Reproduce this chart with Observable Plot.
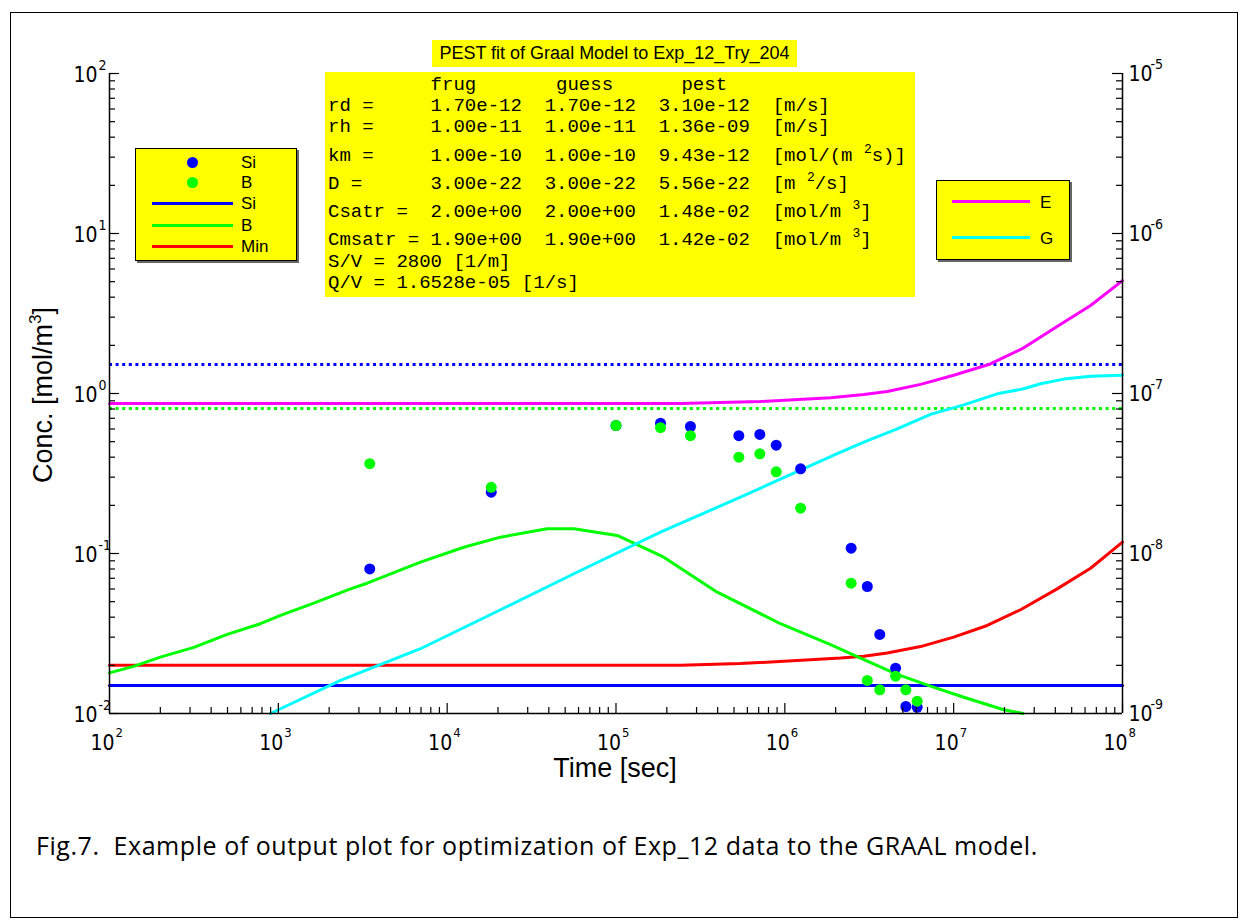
<!DOCTYPE html>
<html><head><meta charset="utf-8">
<script src="https://cdn.jsdelivr.net/npm/d3@7"></script>
<script src="https://cdn.jsdelivr.net/npm/@observablehq/plot@0.6"></script>
<style>
body{margin:0;background:#fff;}
#page{position:relative;width:1246px;height:920px;overflow:hidden;font-family:"Liberation Sans",Arial,sans-serif;color:#000;}
.abs{position:absolute;}
.mono{position:absolute;font-family:"Liberation Mono","Courier New",monospace;font-size:19px;line-height:20px;white-space:pre;}
.sup{font-size:13px;position:relative;top:-8px;}
.leg{position:absolute;background:#ffff00;border:1px solid #000;box-shadow:2px 2px 0 #666;}
.lab{position:absolute;font-size:17px;line-height:20px;}
.sw{position:absolute;height:3px;}
.dotsw{position:absolute;width:11px;height:11px;border-radius:50%;}
</style></head><body>
<div id="page">
  <div class="abs" style="left:10px;top:12px;width:1226px;height:904px;border:1px solid #000;"></div>
  <div id="chart" class="abs" style="left:0;top:0;"></div>
</div>
<script>
// ---------------- data ----------------
// measured points (time in s, concentration in mol/m3)
const pointTimes = [3480, 18240, 100000, 183500, 276000, 534000, 711000, 889000, 1240000, 2470000, 3080000, 3650000, 4530000, 5210000, 6080000];
const siMeasured = [0.0801, 0.2415, 0.631, 0.652, 0.622, 0.545, 0.555, 0.475, 0.338, 0.108, 0.0622, 0.0312, 0.0192, 0.01106, 0.01094];
const bMeasured  = [0.364, 0.259, 0.631, 0.611, 0.545, 0.400, 0.420, 0.324, 0.192, 0.0652, 0.0161, 0.01406, 0.0171, 0.01406, 0.01194];

// model B curve
const bModelTime = [100, 139, 200, 316, 498, 784, 1030, 1622, 2675, 3360, 6950, 12550, 20700, 39150, 56230, 101600, 191900, 397500, 942000, 1866000, 2940000, 4630000, 7290000, 11480000, 19800000, 25800000];
const bModelConc = [0.01795, 0.0197, 0.0225, 0.0259, 0.0312, 0.0364, 0.041, 0.0489, 0.0601, 0.0652, 0.0883, 0.1094, 0.1265, 0.1426, 0.1426, 0.1296, 0.0948, 0.0573, 0.0364, 0.0269, 0.0217, 0.01754, 0.01483, 0.01264, 0.01055, 0.0100];

// model Si (flat)
const siModelTime = [100, 100000000];
const siModelConc = [0.01496, 0.01496];

// model Min curve
const minTime = [100, 241000, 546000, 2140000, 2940000, 4040000, 6370000, 10000000, 15800000, 24900000, 41000000, 64700000, 100000000];
const minConc = [0.0200, 0.0200, 0.0205, 0.0222, 0.0228, 0.0239, 0.0262, 0.0300, 0.0355, 0.0445, 0.0601, 0.0809, 0.1177];

// right-axis series E and G
const eTime  = [100, 241000, 718000, 1866000, 2940000, 4040000, 6370000, 10000000, 16500000, 26000000, 41000000, 64700000, 100000000];
const eValue = [8.66e-8, 8.66e-8, 8.91e-8, 9.4e-8, 9.86e-8, 1.03e-7, 1.14e-7, 1.30e-7, 1.53e-7, 1.93e-7, 2.62e-7, 3.55e-7, 5.08e-7];
const gTime  = [899, 2335, 6950, 20700, 61660, 183500, 546000, 2140000, 2940000, 4630000, 7290000, 11480000, 18100000, 26000000, 32700000, 44900000, 64700000, 100000000];
const gValue = [1.0e-9, 1.61e-9, 2.54e-9, 4.45e-9, 7.83e-9, 1.36e-8, 2.25e-8, 4.30e-8, 4.97e-8, 6.01e-8, 7.40e-8, 8.49e-8, 9.95e-8, 1.07e-7, 1.15e-7, 1.23e-7, 1.28e-7, 1.30e-7];

// dotted reference levels
const siDottedLevel = [1.52];
const bDottedLevel  = [0.806];

// tick labels (exponents)
const xExponents = [2, 3, 4, 5, 6, 7, 8];
const leftExponents = [-2, -1, 0, 1, 2];
const rightExponents = [-9, -8, -7, -6, -5];
const rightOffset = 7; // right axis = left axis * 1e-7

// parameter table
const paramNames = ["rd =", "rh =", "km =", "D =", "Csatr =", "Cmsatr ="];
const frugVals  = ["1.70e-12", "1.00e-11", "1.00e-10", "3.00e-22", "2.00e+00", "1.90e+00"];
const guessVals = ["1.70e-12", "1.00e-11", "1.00e-10", "3.00e-22", "2.00e+00", "1.90e+00"];
const pestVals  = ["3.10e-12", "1.36e-09", "9.43e-12", "5.56e-22", "1.48e-02", "1.42e-02"];
const unitVals  = ["[m/s]", "[m/s]", "[mol/(m |2|s)]", "[m |2|/s]", "[mol/m |3|]", "[mol/m |3|]"];
const extraLines = ["S/V = 2800 [1/m]", "Q/V = 1.6528e-05 [1/s]"];

// ---------------- chart ----------------
const W = 1246, H = 790, mL = 109, mR = 124, mT = 73, mB = 77;
const pw = W - mL - mR, ph = H - mT - mB;
const yMajor = leftExponents.map(e => 10 ** e);
const yMinor = [];
for (const e of leftExponents.slice(0, -1)) for (let m = 2; m <= 9; m++) yMinor.push(m * 10 ** e);
const xMajor = xExponents.map(e => 10 ** e);
const xMinor = [];
for (const e of xExponents.slice(0, -1)) for (let m = 2; m <= 9; m++) xMinor.push(m * 10 ** e);

const tickFont = '"Liberation Sans Narrow","Arial Narrow","DejaVu Sans Condensed","Liberation Sans",Arial,sans-serif';
const n = a => ({length: a.length});

const chart = Plot.plot({
  width: W, height: H,
  marginLeft: mL, marginRight: mR, marginTop: mT, marginBottom: mB,
  x: {type: "log", domain: [1e2, 1e8], axis: null},
  y: {type: "log", domain: [1e-2, 1e2], axis: null},
  style: {background: "transparent", overflow: "visible"},
  marks: [
    Plot.ruleY(siDottedLevel, {stroke: "#0000ff", strokeWidth: 3, strokeDasharray: "3,3.6"}),
    Plot.ruleY(bDottedLevel, {stroke: "#00ff00", strokeWidth: 3, strokeDasharray: "3,3.6"}),
    Plot.line(n(siModelTime), {x: siModelTime, y: siModelConc, stroke: "#0000ff", strokeWidth: 3}),
    Plot.line(n(minTime), {x: minTime, y: minConc, stroke: "#ff0000", strokeWidth: 3}),
    Plot.line(n(bModelTime), {x: bModelTime, y: bModelConc, stroke: "#00ff00", strokeWidth: 3}),
    Plot.line(n(eTime), {x: eTime, y: eValue.map(v => v * 10 ** rightOffset), stroke: "#ff00ff", strokeWidth: 3}),
    Plot.line(n(gTime), {x: gTime, y: gValue.map(v => v * 10 ** rightOffset), stroke: "#00ffff", strokeWidth: 3}),
    Plot.dot(n(pointTimes), {x: pointTimes, y: siMeasured, r: 5.5, fill: "#0000ff"}),
    Plot.dot(n(pointTimes), {x: pointTimes, y: bMeasured, r: 5.5, fill: "#00ff00"}),
    // axes lines
    Plot.ruleX([1e2], {stroke: "#000", strokeWidth: 1.5}),
    Plot.ruleX([1e8], {stroke: "#000", strokeWidth: 1.5}),
    Plot.ruleY([1e-2], {stroke: "#000", strokeWidth: 1.5}),
    // inward ticks
    Plot.tickY(yMajor, {y: d => d, insetRight: pw - 10, stroke: "#000", strokeWidth: 1.2}),
    Plot.tickY(yMinor, {y: d => d, insetRight: pw - 6, stroke: "#000", strokeWidth: 1.2}),
    Plot.tickY(yMajor, {y: d => d, insetLeft: pw - 10, stroke: "#000", strokeWidth: 1.2}),
    Plot.tickY(yMinor, {y: d => d, insetLeft: pw - 6, stroke: "#000", strokeWidth: 1.2}),
    Plot.tickX(xMajor, {x: d => d, insetTop: ph - 10, stroke: "#000", strokeWidth: 1.2}),
    Plot.tickX(xMinor, {x: d => d, insetTop: ph - 6, stroke: "#000", strokeWidth: 1.2}),
    // left tick labels
    Plot.text(leftExponents, {y: e => 10 ** e, frameAnchor: "left", text: () => "10", textAnchor: "end", dx: -12, dy: 2, fontSize: 21, fontFamily: tickFont, fill: "#000"}),
    Plot.text(leftExponents, {y: e => 10 ** e, frameAnchor: "left", text: e => String(e), textAnchor: "start", dx: -11, dy: -8, fontSize: 14, fontFamily: tickFont, fill: "#000"}),
    // right tick labels
    Plot.text(rightExponents, {y: e => 10 ** (e + rightOffset), frameAnchor: "right", text: () => "10", textAnchor: "start", dx: 6, dy: 1, fontSize: 21, fontFamily: tickFont, fill: "#000"}),
    Plot.text(rightExponents, {y: e => 10 ** (e + rightOffset), frameAnchor: "right", text: e => String(e), textAnchor: "start", dx: 28, dy: -9, fontSize: 14, fontFamily: tickFont, fill: "#000"}),
    // bottom tick labels
    Plot.text(xExponents, {x: e => 10 ** e, frameAnchor: "bottom", text: () => "10", textAnchor: "end", dx: 5, dy: 36, fontSize: 21, fontFamily: tickFont, fill: "#000"}),
    Plot.text(xExponents, {x: e => 10 ** e, frameAnchor: "bottom", text: e => String(e), textAnchor: "start", dx: 6, dy: 23, fontSize: 13, fontFamily: tickFont, fill: "#000"})
  ]
});
document.getElementById("chart").appendChild(chart);

// ---------------- overlays ----------------
const page = document.getElementById("page");
function add(html) { page.insertAdjacentHTML("beforeend", html); }
const supify = s => s.replace(/\|(.+?)\|/g, '<span class="sup">$1</span>');

// axis titles
add('<div class="abs" style="left:465px;top:753px;width:300px;text-align:center;font-size:27px;line-height:30px;">Time [sec]</div>');
add('<div class="abs" style="left:-105px;top:378px;width:300px;text-align:center;font-size:27px;line-height:30px;transform:rotate(-90deg);">Conc. [mol/m<span style="font-size:17px;position:relative;top:-11px;">3</span>]</div>');

// title
add('<div class="abs" style="left:432px;top:40px;width:365px;height:27px;background:#ffff00;text-align:center;font-size:18px;line-height:27px;">PEST fit of Graal Model to Exp_12_Try_204</div>');

// parameter box
add('<div class="abs" style="left:325px;top:72px;width:590px;height:225px;background:#ffff00;"></div>');
const lineY = [85, 106, 127, 156, 184, 212, 240, 262, 283];
const header = " ".repeat(9) + "frug" + " ".repeat(7) + "guess" + " ".repeat(6) + "pest";
const lines = [header];
paramNames.forEach((p, i) => {
  lines.push(p.padEnd(9, " ") + frugVals[i] + "  " + guessVals[i] + "  " + pestVals[i] + "  " + supify(unitVals[i]));
});
extraLines.forEach(l => lines.push(l));
lines.forEach((l, i) => add(`<div class="mono" style="left:328px;top:${lineY[i] - 10}px;">${l}</div>`));

// left legend
add(`<div class="leg" style="left:135px;top:148px;width:160px;height:111px;"></div>`);
const leftLeg = [
  {type: "dot", color: "#0000ff", label: "Si", y: 162},
  {type: "dot", color: "#00ff00", label: "B", y: 182},
  {type: "line", color: "#0000ff", label: "Si", y: 203},
  {type: "line", color: "#00ff00", label: "B", y: 225},
  {type: "line", color: "#ff0000", label: "Min", y: 246}
];
leftLeg.forEach(d => {
  if (d.type === "dot") add(`<div class="dotsw" style="left:187px;top:${d.y - 5.5}px;background:${d.color};"></div>`);
  else add(`<div class="sw" style="left:152px;top:${d.y - 1.5}px;width:81px;background:${d.color};"></div>`);
  add(`<div class="lab" style="left:241px;top:${d.y - 9}px;">${d.label}</div>`);
});

// right legend
add(`<div class="leg" style="left:936px;top:180px;width:132px;height:78px;"></div>`);
[{color: "#ff00ff", label: "E", y: 201}, {color: "#00ffff", label: "G", y: 237}].forEach(d => {
  add(`<div class="sw" style="left:952px;top:${d.y - 1.5}px;width:78px;background:${d.color};"></div>`);
  add(`<div class="lab" style="left:1040px;top:${d.y - 8}px;">${d.label}</div>`);
});

// caption
add('<div class="abs" style="left:36px;top:829px;font-family:\'Open Sans\',Lato,sans-serif;font-size:25px;letter-spacing:0.55px;line-height:32px;white-space:pre;">Fig.7.  Example of output plot for optimization of Exp_12 data to the GRAAL model.</div>');
</script>
</body></html>
